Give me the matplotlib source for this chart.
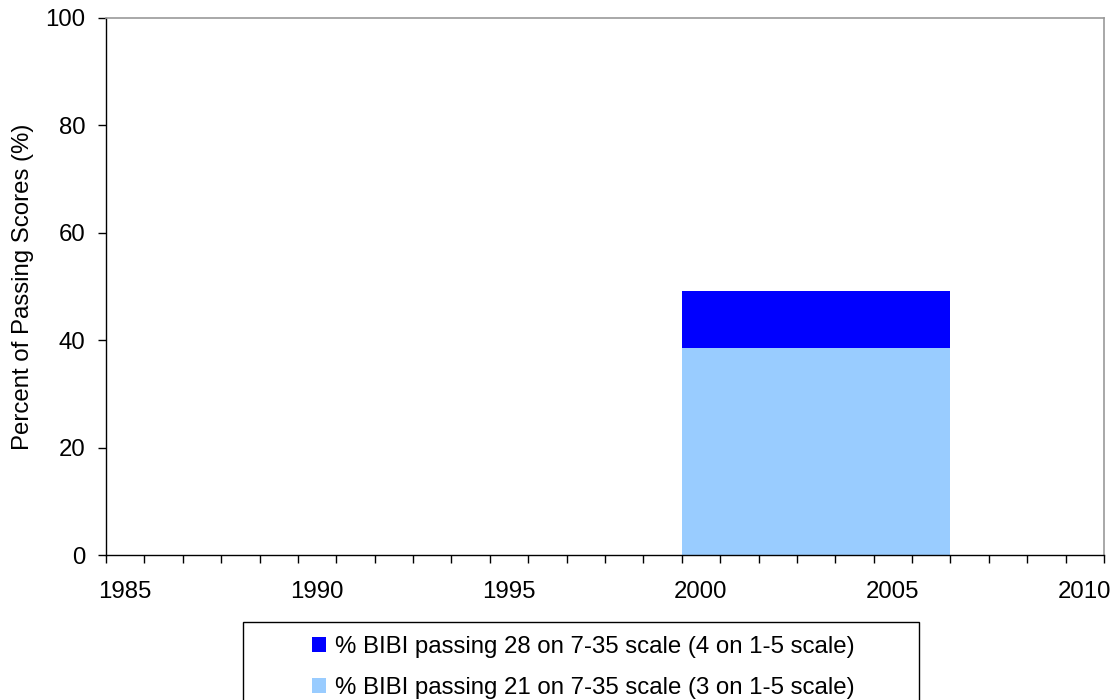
import matplotlib
matplotlib.use("Agg")
import matplotlib.pyplot as plt
from matplotlib.patches import Rectangle

# ---- data ----
bar_start_year = [2000]
bar_span_years = [7]
pct_passing_21 = [38.5]          # light blue (3 on 1-5 scale)
pct_passing_28_extra = [10.7]    # dark blue stacked on top (4 on 1-5 scale)
label_28 = "% BIBI passing 28 on 7-35 scale (4 on 1-5 scale)"
label_21 = "% BIBI passing 21 on 7-35 scale (3 on 1-5 scale)"
year_labels = [1985, 1990, 1995, 2000, 2005, 2010]
y_ticks = [0, 20, 40, 60, 80, 100]

plt.rcParams['font.family'] = ['Liberation Sans', 'DejaVu Sans']
FS = 17.3

W, H = 1118, 700
fig = plt.figure(figsize=(W / 100, H / 100), dpi=100)
ax = fig.add_axes([106 / W, (H - 555) / H, (1104 - 106) / W, (555 - 18) / H])

b21 = ax.bar(bar_start_year, pct_passing_21, width=bar_span_years, align='edge',
             color='#99CCFF', edgecolor='none', label=label_21)
b28 = ax.bar(bar_start_year, pct_passing_28_extra, width=bar_span_years, align='edge',
             bottom=pct_passing_21, color='#0000FF', edgecolor='none', label=label_28)

ax.set_xlim(1985, 2011)
ax.set_ylim(0, 100)

# major ticks every year (no labels), labels centred in year slots
ax.set_xticks(range(1985, 2012))
ax.set_xticklabels([])
ax.set_xticks([y + 0.5 for y in year_labels], minor=True)
ax.set_xticklabels([str(y) for y in year_labels], minor=True, fontsize=FS)
ax.tick_params(axis='x', which='major', direction='out', length=6, width=1, color='#000000')
ax.tick_params(axis='x', which='minor', length=0, pad=19)

ax.set_yticks(y_ticks)
ax.set_yticklabels([str(v) for v in y_ticks], fontsize=FS)
ax.tick_params(axis='y', direction='out', length=6, width=1, pad=9, color='#000000')

for s in ['left', 'bottom']:
    ax.spines[s].set_color('#000000')
    ax.spines[s].set_linewidth(1.0)
for s in ['top', 'right']:
    ax.spines[s].set_color('#999999')
    ax.spines[s].set_linewidth(1.2)

ax.set_ylabel("Percent of Passing Scores (%)", fontsize=FS, labelpad=8)

# legend frame (extends past bottom of figure)
fig.patches.append(Rectangle((243 / W, -0.05), (919 - 243) / W, (H - 622) / H + 0.05,
                             transform=fig.transFigure, facecolor='white',
                             edgecolor='#000000', linewidth=1.0))
leg = fig.legend(handles=[b28, b21], labels=[label_28, label_21],
                 loc='upper left', bbox_to_anchor=(300 / W, 1 - 624 / H),
                 frameon=False, fontsize=FS, handlelength=0.6, handleheight=0.6,
                 handletextpad=0.35, labelspacing=0.8, borderpad=0.0)

fig.savefig("out.png", dpi=100)
